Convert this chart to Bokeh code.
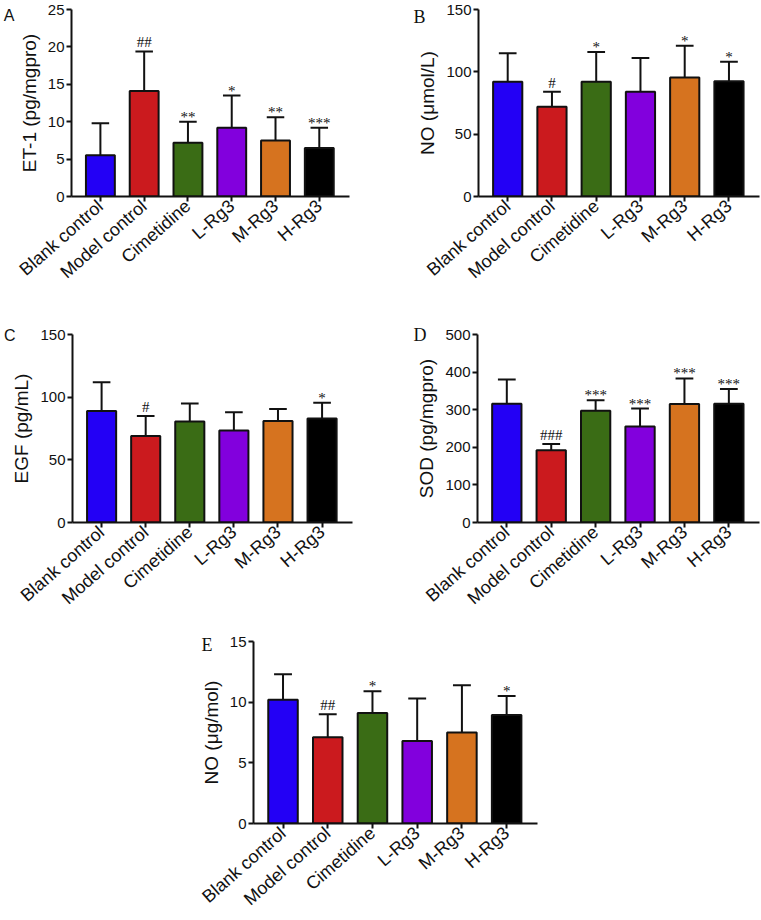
from bokeh.plotting import figure
from bokeh.models import Range1d, FixedTicker, LinearAxis, ColumnDataSource
from bokeh.layouts import column, row
from bokeh.embed import file_html
from bokeh.resources import INLINE
from bokeh.core.properties import value

groups = ["Blank control", "Model control", "Cimetidine", "L-Rg3", "M-Rg3", "H-Rg3"]
colors = ["#2300F5", "#CB1A1E", "#3A6C15", "#8200DD", "#D6731F", "#000000"]

# Panel A: ET-1 (pg/mgpro)
et1_mean = [5.5, 14.1, 7.2, 9.2, 7.5, 6.5]
et1_sd = [4.3, 5.3, 2.8, 4.3, 3.1, 2.7]
et1_sig = ["", "##", "**", "*", "**", "***"]
et1_ticks = [0, 5, 10, 15, 20, 25]

# Panel B: NO (umol/L)
no_mean = [92, 72, 92, 84, 95.5, 92.5]
no_sd = [23, 12, 24, 27, 25.5, 15.5]
no_sig = ["", "#", "*", "", "*", "*"]
no_ticks = [0, 50, 100, 150]

# Panel C: EGF (pg/mL)
egf_mean = [89, 69, 80.5, 73.5, 81, 83]
egf_sd = [23, 16, 14.5, 14.5, 9.5, 12.5]
egf_sig = ["", "#", "", "", "", "*"]
egf_ticks = [0, 50, 100, 150]

# Panel D: SOD (pg/mgpro)
sod_mean = [316, 192, 297, 255, 315, 316]
sod_sd = [64, 17, 28, 48, 68, 39]
sod_sig = ["", "###", "***", "***", "***", "***"]
sod_ticks = [0, 100, 200, 300, 400, 500]

# Panel E: NO (ug/mol)
no2_mean = [10.2, 7.1, 9.1, 6.8, 7.5, 8.95]
no2_sd = [2.1, 1.9, 1.8, 3.5, 3.9, 1.55]
no2_sig = ["", "##", "*", "", "", "*"]
no2_ticks = [0, 5, 10, 15]

SANS = "Liberation Sans"
SERIF = "Liberation Serif"
X0, X1 = -0.66, 5.69


def make_panel(mean, sd, sig, ticks, ylabel, letter, letter_font, letter_size,
               letter_dy, letter_standoff, width, height, bl, br, bt, bb):
    xs = list(range(len(groups)))
    p = figure(width=width, height=height, output_backend="svg", toolbar_location=None,
               x_range=Range1d(X0, X1), y_range=Range1d(ticks[0], ticks[-1]),
               min_border_left=bl, min_border_right=br, min_border_top=bt, min_border_bottom=bb)
    p.outline_line_color = None
    p.grid.visible = False
    p.background_fill_color = "white"
    p.border_fill_color = "white"

    up = [m + s for m, s in zip(mean, sd)]
    src = ColumnDataSource(dict(
        x=xs, top=mean, color=colors, up=up,
        cl=[x - 0.2 for x in xs], cr=[x + 0.2 for x in xs],
    ))
    p.vbar(x="x", top="top", bottom=0, width=0.66, fill_color="color",
           line_color="#111111", line_width=2, source=src)
    p.segment(x0="x", y0="top", x1="x", y1="up", line_color="#111111", line_width=2, source=src)
    p.segment(x0="cl", y0="up", x1="cr", y1="up", line_color="#111111", line_width=2, source=src)

    stars = ColumnDataSource(dict(
        x=[x for x, s in zip(xs, sig) if "*" in s],
        y=[u for u, s in zip(up, sig) if "*" in s],
        t=[s for s in sig if "*" in s]))
    hashes = ColumnDataSource(dict(
        x=[x for x, s in zip(xs, sig) if "#" in s],
        y=[u for u, s in zip(up, sig) if "#" in s],
        t=[s for s in sig if "#" in s]))
    p.text(x="x", y="y", text="t", source=stars, text_align="center",
           text_baseline="alphabetic", y_offset=-5,
           text_font=value(SERIF), text_font_size="15px", text_color="#111111")
    p.text(x="x", y="y", text="t", source=hashes, text_align="center",
           text_baseline="alphabetic", y_offset=-9,
           text_font=value(SERIF), text_font_size="15px", text_color="#111111")

    for ax in (p.xaxis[0], p.yaxis[0]):
        ax.axis_line_width = 2
        ax.axis_line_color = "#111111"
        ax.major_tick_line_width = 2
        ax.major_tick_line_color = "#111111"
        ax.major_tick_out = 5
        ax.major_tick_in = 0
        ax.minor_tick_line_color = None
        ax.major_label_text_font = SANS
        ax.major_label_text_color = "#111111"

    p.yaxis.ticker = FixedTicker(ticks=ticks)
    p.yaxis.major_label_text_font_size = "15px"
    p.yaxis.major_label_standoff = 2
    p.yaxis.axis_label = ylabel
    p.yaxis.axis_label_text_font = SANS
    p.yaxis.axis_label_text_font_size = "19px"
    p.yaxis.axis_label_text_font_style = "normal"
    p.yaxis.axis_label_text_color = "#111111"
    p.yaxis.axis_label_standoff = 5

    p.xaxis.ticker = FixedTicker(ticks=xs)
    p.xaxis.major_label_overrides = {i: g for i, g in enumerate(groups)}
    p.xaxis.major_label_orientation = 0.72
    p.xaxis.major_label_text_font_size = "18px"
    p.xaxis.major_label_standoff = 2

    # panel letter, drawn as the only label of an extra (invisible) left axis
    fh = height - bt - bb
    pos = fh - letter_dy
    p.extra_y_ranges = {"letter": Range1d(0, fh)}
    lax = LinearAxis(y_range_name="letter", ticker=FixedTicker(ticks=[pos]),
                     major_label_overrides={pos: letter})
    lax.axis_line_color = None
    lax.major_tick_line_color = None
    lax.minor_tick_line_color = None
    lax.major_tick_out = 0
    lax.major_tick_in = 0
    lax.major_label_standoff = letter_standoff
    lax.major_label_orientation = "horizontal"
    lax.major_label_text_font = letter_font
    lax.major_label_text_font_size = letter_size
    lax.major_label_text_color = "#111111"
    p.add_layout(lax, "left")
    return p


pA = make_panel(et1_mean, et1_sd, et1_sig, et1_ticks, "ET-1 (pg/mgpro)", "A", SANS, "16px",
                6, 1, 372, 300, 67, 23, 9, 104)
pB = make_panel(no_mean, no_sd, no_sig, no_ticks, "NO (μmol/L)", "B", SERIF, "18px",
                8, -11, 388, 300, 106, 1, 8, 104)
pC = make_panel(egf_mean, egf_sd, egf_sig, egf_ticks, "EGF (pg/mL)", "C", SANS, "16px",
                1, -7, 372, 318, 67, 20, 33, 96)
pD = make_panel(sod_mean, sod_sd, sod_sig, sod_ticks, "SOD (pg/mgpro)", "D", SERIF, "18px",
                0, -13, 388, 318, 105, 1, 34, 95)
pE = make_panel(no2_mean, no2_sd, no2_sig, no2_ticks, "NO (μg/mol)", "E", SERIF, "18px",
                4, -15, 760, 301, 253, 223, 23, 92)

layout = column(row(pA, pB), row(pC, pD), pE)
open("out.html", "w").write(file_html(layout, INLINE))
